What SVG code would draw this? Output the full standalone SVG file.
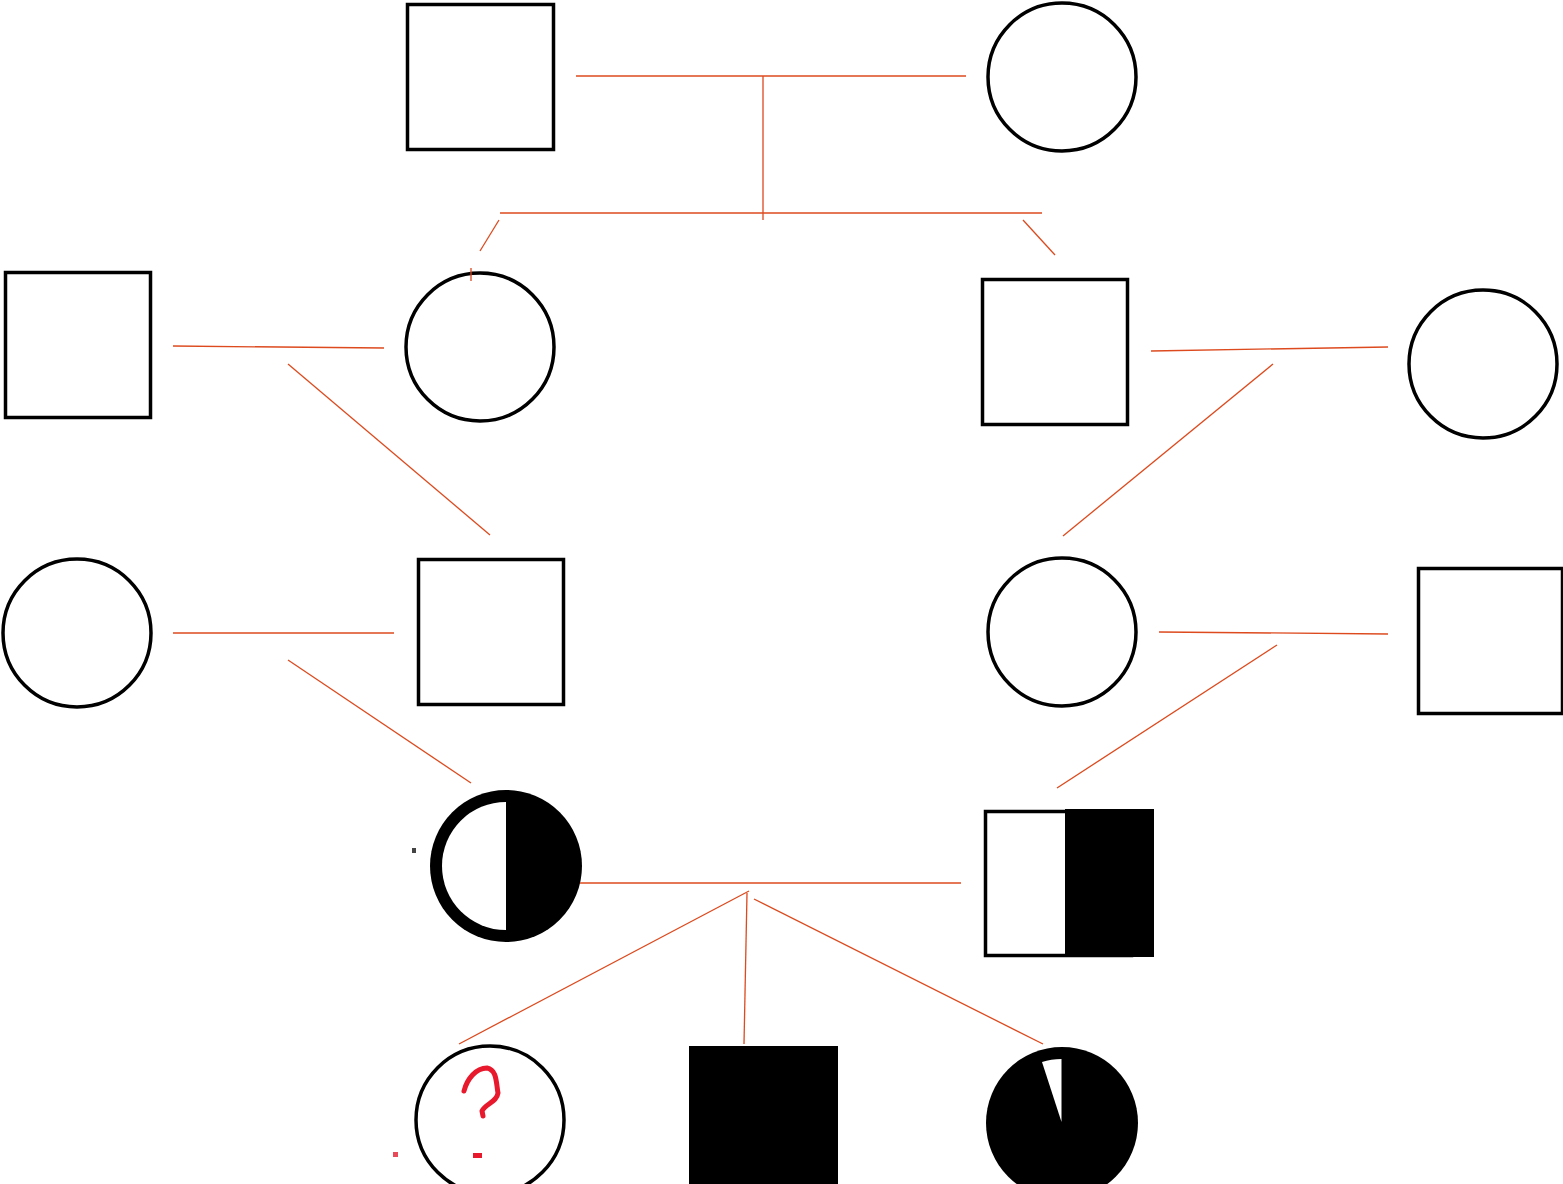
<svg xmlns="http://www.w3.org/2000/svg" width="1563" height="1184" viewBox="0 0 1563 1184">
  <style>
    .m { fill: #fff; stroke: #000; stroke-width: 3.5; }
    .f { fill: #fff; stroke: #000; stroke-width: 3.5; }
    .solid { fill: #000; }
    #connectors line { stroke: #dc4a1e; stroke-width: 1.3; stroke-linecap: butt; }
  </style>
  <rect width="1563" height="1184" fill="#fff"/>

  <!-- generation I -->
  <g id="g1-father"><rect class="m" x="407.5" y="4.5" width="146" height="145"/></g>
  <g id="g1-mother"><circle class="f" cx="1062" cy="77" r="74"/></g>

  <!-- generation II -->
  <g id="g2-husband-left"><rect class="m" x="5.5" y="272.5" width="145" height="145"/></g>
  <g id="g2-daughter"><circle class="f" cx="480" cy="347" r="74"/></g>
  <g id="g2-son"><rect class="m" x="982.5" y="279.5" width="145" height="145"/></g>
  <g id="g2-wife-right"><circle class="f" cx="1483" cy="364" r="74"/></g>

  <!-- generation III -->
  <g id="g3-wife-left"><circle class="f" cx="77" cy="633" r="74"/></g>
  <g id="g3-son"><rect class="m" x="418.5" y="559.5" width="145" height="145"/></g>
  <g id="g3-daughter"><circle class="f" cx="1062" cy="632" r="74"/></g>
  <g id="g3-husband-right"><rect class="m" x="1418.5" y="568.5" width="144" height="145"/></g>

  <!-- generation IV: half-affected carriers -->
  <g id="g4-mother">
    <circle class="solid" cx="506" cy="866" r="76"/>
    <path d="M506 802 A64 64 0 0 0 506 930 Z" fill="#fff"/>
    <rect x="412" y="848" width="4" height="5" fill="#444"/>
  </g>
  <g id="g4-father">
    <rect class="m" x="985.5" y="811.5" width="146" height="144"/>
    <rect class="solid" x="1065" y="809" width="89" height="148"/>
  </g>

  <!-- generation V -->
  <g id="g5-daughter-unknown">
    <circle class="f" cx="490" cy="1120" r="74"/>
    <path d="M464 1091 C467 1079 476 1068 487 1068 C497 1070 496 1082 498 1093 C497 1102 485 1104 482 1111 L483 1116" fill="none" stroke="#e8192c" stroke-width="5" stroke-linecap="round" stroke-linejoin="round"/>
    <rect x="393" y="1152" width="5" height="5" fill="#e84a5a"/>
    <rect x="473" y="1153" width="9" height="5" fill="#e8192c"/>
  </g>
  <g id="g5-son-affected"><rect class="solid" x="689" y="1046" width="149" height="140"/></g>
  <g id="g5-daughter-affected">
    <circle class="solid" cx="1062" cy="1123" r="76"/>
    <path d="M1061.5 1122 L1042 1062 Q1051 1059 1061.5 1059 Z" fill="#fff"/>
  </g>

  <g id="connectors">
    <line x1="576" y1="76" x2="966" y2="76"/>
    <line x1="763" y1="76" x2="763" y2="220"/>
    <line x1="500" y1="213" x2="1042" y2="213"/>
    <line x1="499" y1="220" x2="480" y2="251"/>
    <line x1="1023" y1="220" x2="1055" y2="255"/>
    <line x1="471" y1="268" x2="471" y2="281"/>
    <line x1="173" y1="346" x2="384" y2="348"/>
    <line x1="288" y1="364" x2="490" y2="535"/>
    <line x1="1151" y1="351" x2="1388" y2="347"/>
    <line x1="1273" y1="364" x2="1063" y2="536"/>
    <line x1="173" y1="633" x2="394" y2="633"/>
    <line x1="288" y1="660" x2="471" y2="783"/>
    <line x1="1159" y1="632" x2="1388" y2="634"/>
    <line x1="1277" y1="645" x2="1057" y2="788"/>
    <line x1="580" y1="883" x2="961" y2="883"/>
    <line x1="749" y1="891" x2="459" y2="1044"/>
    <line x1="747" y1="893" x2="744" y2="1044"/>
    <line x1="754" y1="899" x2="1043" y2="1044"/>
  </g>
</svg>
